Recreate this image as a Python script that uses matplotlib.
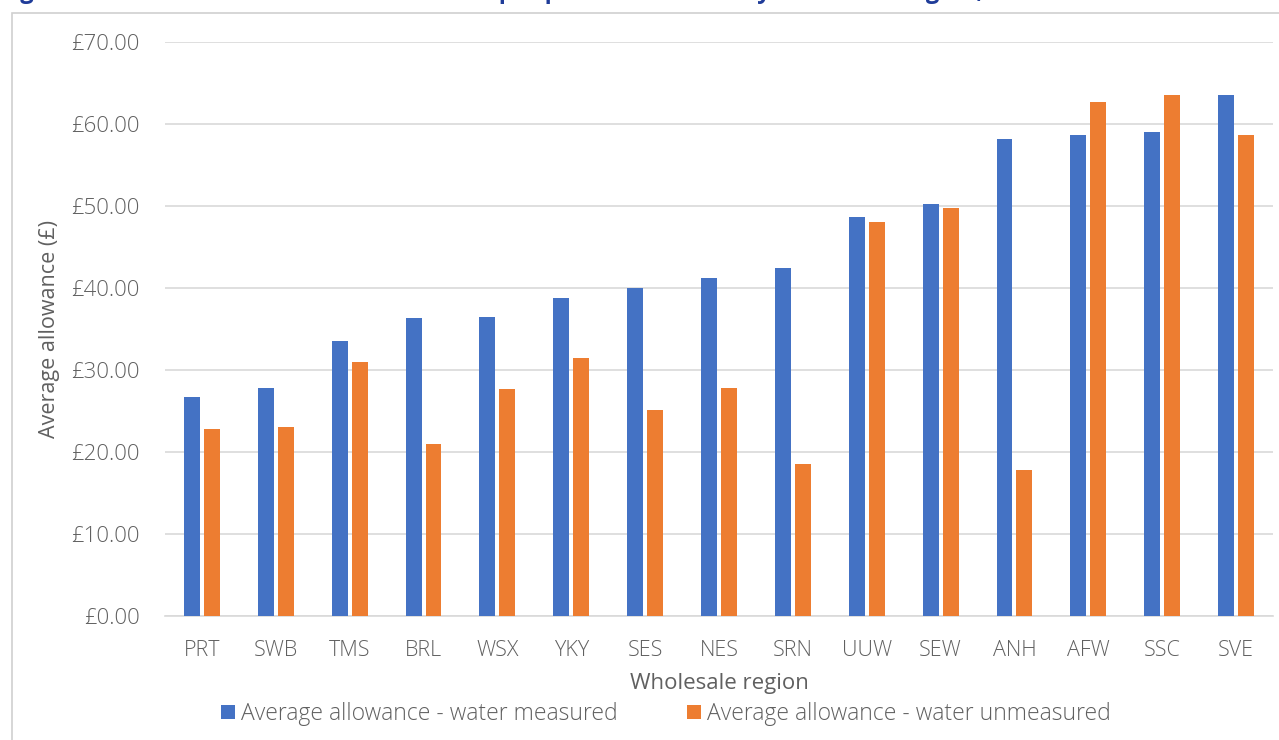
import matplotlib.pyplot as plt
import matplotlib.patches as mpatches
import numpy as np
from matplotlib.ticker import FuncFormatter


regions = ['PRT', 'SWB', 'TMS', 'BRL', 'WSX', 'YKY', 'SES', 'NES',
           'SRN', 'UUW', 'SEW', 'ANH', 'AFW', 'SSC', 'SVE']
measured = [26.7, 27.8, 33.5, 36.3, 36.5, 38.8, 40.0, 41.2,
            42.4, 48.7, 50.3, 58.2, 58.6, 59.0, 63.5]
unmeasured = [22.8, 23.05, 31.0, 21.0, 27.7, 31.5, 25.1, 27.8,
              18.5, 48.0, 49.8, 17.8, 62.7, 63.5, 58.6]

title = 'Figure 6: Non-household retail allowances per premises served by wholesale region, 2023-24'

BLUE = '#4472C4'
ORANGE = '#ED7D31'
GREY_TXT = '#606060'
GRID = '#D9D9D9'

plt.rcParams['font.family'] = ['Open Sans', 'DejaVu Sans']
plt.rcParams['font.weight'] = 'light'

W, H = 1279, 740
fig = plt.figure(figsize=(W / 100, H / 100), dpi=100)

# chart frame, runs off the right and bottom edges
frame = mpatches.Rectangle((12 / W, -0.1), 1.2, 1 - 13 / H + 0.1,
                           transform=fig.transFigure, fill=False,
                           edgecolor='#D0D0D0', linewidth=1.2)
fig.patches.append(frame)

# heading sits above the canvas, only the descenders show
fig.text(0.0, 1 + 2 / H, title, ha='left', va='baseline',
         fontsize=17, fontweight='bold', color='#1F3C99')

ax = fig.add_axes([165 / W, 124 / H, (1273 - 165) / W, (698 - 124) / H])

x = np.arange(len(regions))
bw = 0.216
off = 0.135
ax.bar(x - off, measured, bw, color=BLUE, label='Average allowance - water measured', zorder=3)
ax.bar(x + off, unmeasured, bw, color=ORANGE, label='Average allowance - water unmeasured', zorder=3)

ax.set_xlim(-0.5, len(regions) - 0.5)
ax.set_ylim(0, 70)
ax.set_yticks(np.arange(0, 71, 10))
ax.yaxis.set_major_formatter(FuncFormatter(lambda v, p: '£%.2f' % v))
ax.set_xticks(x)
ax.set_xticklabels(regions)

ax.grid(axis='y', color=GRID, linewidth=1.2, zorder=0)
for s in ['top', 'right', 'left']:
    ax.spines[s].set_visible(False)
ax.spines['bottom'].set_color(GRID)
ax.spines['bottom'].set_linewidth(1.2)

ax.tick_params(axis='y', length=0, labelsize=16, colors=GREY_TXT, pad=18)
ax.tick_params(axis='x', length=0, labelsize=15.5, colors=GREY_TXT, pad=17)

ax.set_xlabel('Wholesale region', fontsize=16, color=GREY_TXT, labelpad=9)
ax.set_ylabel('Average allowance (£)', fontsize=15.5, color=GREY_TXT, labelpad=8)

fig.legend(loc='center', bbox_to_anchor=(666 / W, 1 - 714 / H), ncol=2,
           frameon=False, fontsize=16.5, labelcolor=GREY_TXT,
           handlelength=0.6, handleheight=0.6, handletextpad=0.3,
           columnspacing=3.0)

fig.savefig('out.png', dpi=100)
